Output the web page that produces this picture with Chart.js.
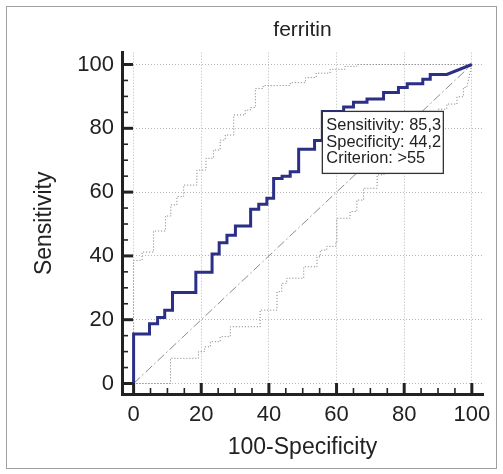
<!DOCTYPE html>
<html>
<head>
<meta charset="utf-8">
<script src="https://cdn.jsdelivr.net/npm/chart.js@4"></script>
<style>
  html, body { margin: 0; padding: 0; background: #fff; }
  #wrap { position: relative; width: 503px; height: 474px; }
  #frame { position: absolute; left: 6px; top: 6px; width: 489px; height: 461px; border: 1px solid #a0a0a0; pointer-events: none; }
</style>
</head>
<body>
<div id="wrap">
  <canvas id="roc"></canvas>
  <div id="frame"></div>
</div>
<script>
// 刻度
const tickValues = [0, 20, 40, 60, 80, 100];

// ROC 曲线 (100-Specificity, Sensitivity)
const rocX = [0, 0, 4.7, 4.7, 7.1, 7.1, 9.2, 9.2, 11.5, 11.5, 18.4, 18.4, 23.2, 23.2, 25.3, 25.3, 27.6, 27.6, 30.1, 30.1,
  34.6, 34.6, 37.0, 37.0, 39.4, 39.4, 41.4, 41.4, 43.9, 43.9, 46.3, 46.3, 48.8, 48.8, 53.5, 53.5, 55.8, 55.8,
  62.1, 62.1, 65.0, 65.0, 69.0, 69.0, 73.9, 73.9, 78.3, 78.3, 80.9, 80.9, 85.5, 85.5, 87.7, 87.7, 92.6, 100];
const rocY = [0, 15.5, 15.5, 18.7, 18.7, 20.7, 20.7, 23.0, 23.0, 28.5, 28.5, 34.9, 34.9, 40.6, 40.6, 44.1, 44.1, 46.5, 46.5, 49.4,
  49.4, 54.6, 54.6, 56.2, 56.2, 58.1, 58.1, 64.3, 64.3, 65.0, 65.0, 66.4, 66.4, 73.4, 73.4, 76.2, 76.2, 85.3,
  85.3, 86.7, 86.7, 88.2, 88.2, 89.2, 89.2, 91.2, 91.2, 92.8, 92.8, 94.0, 94.0, 95.4, 95.4, 96.9, 96.9, 100];

// 置信区间上限
const upperX = [0, 0, 2.5, 2.5, 5.9, 5.9, 9.4, 9.4, 11.0, 11.0, 12.8, 12.8, 14.8, 14.8, 18.7, 18.7, 21.4, 21.4, 23.6, 23.6,
  25.6, 25.6, 27.1, 27.1, 29.6, 29.6, 33.0, 33.0, 34.5, 34.5, 36.0, 36.0, 38.3, 38.3, 46.3, 46.3, 50.8, 50.8,
  54.0, 54.0, 58.1, 58.1, 62.5, 62.5, 66.0, 66.0, 100];
const upperY = [0, 38.6, 38.6, 41.2, 41.2, 47.8, 47.8, 52.5, 52.5, 56.0, 56.0, 58.6, 58.6, 62.2, 62.2, 66.9, 66.9, 70.6, 70.6, 73.2,
  73.2, 76.3, 76.3, 77.9, 77.9, 84.2, 84.2, 85.7, 85.7, 86.5, 86.5, 92.5, 92.5, 93.4, 93.4, 94.3, 94.3, 95.9,
  95.9, 97.3, 97.3, 98.5, 98.5, 99.4, 99.4, 100, 100];

// 置信区间下限
const lowerX = [0, 10.9, 10.9, 19.2, 19.2, 21.0, 21.0, 22.7, 22.7, 25.6, 25.6, 28.6, 28.6, 37.4, 37.4, 42.4, 42.4, 43.8, 43.8,
  45.3, 45.3, 50.3, 50.3, 54.2, 54.2, 55.2, 55.2, 57.1, 57.1, 59.8, 59.8, 60.1, 60.1, 64.0, 64.0, 66.0, 66.0,
  68.0, 68.0, 72.0, 72.0, 74.0, 74.0, 78.0, 78.0, 82.0, 82.0, 86.0, 86.0, 90.0, 90.0, 92.6, 92.6, 95.6, 95.6,
  97.5, 97.5, 98.5, 100];
const lowerY = [0, 0, 7.9, 7.9, 10.0, 10.0, 11.5, 11.5, 13.1, 13.1, 14.7, 14.7, 17.8, 17.8, 23.0, 23.0, 28.8, 28.8, 31.4,
  31.4, 33.0, 33.0, 36.6, 36.6, 39.7, 39.7, 41.8, 41.8, 43.0, 43.0, 44.5, 44.5, 51.8, 51.8, 53.9, 53.9, 57.5,
  57.5, 61.2, 61.2, 65.4, 65.4, 69.5, 69.5, 74.0, 74.0, 78.0, 78.0, 82.0, 82.0, 86.0, 86.0, 87.6, 87.6, 89.9,
  89.9, 92.8, 92.8, 100];

// 参考对角线
const diagX = [0, 100];
const diagY = [0, 100];

// 标注框
const criterionPoint = { x: 100 - 44.2, y: 85.3 };
const criterionLines = ['Sensitivity: 85,3', 'Specificity: 44,2', 'Criterion: >55'];

const FONT = "'Liberation Sans', Arial, sans-serif";

function toPoints(xs, ys) {
    return xs.map((x, i) => ({ x: x, y: ys[i] }));
}

// 坐标轴内向刻度 + 标注框
const axisTicksPlugin = {
    id: 'axisTicks',
    afterDatasetsDraw(chart) {
        const ctx = chart.ctx;
        const xs = chart.scales.x, ys = chart.scales.y;
        const px = xs.getPixelForValue(criterionPoint.x);
        const py = ys.getPixelForValue(criterionPoint.y);
        const w = 121, h = 62;
        ctx.save();
        ctx.fillStyle = '#fff';
        ctx.fillRect(px, py, w, h);
        ctx.strokeStyle = '#333';
        ctx.lineWidth = 1.3;
        ctx.strokeRect(px, py, w, h);
        ctx.fillStyle = '#222';
        ctx.font = '16.4px ' + FONT;
        ctx.textBaseline = 'middle';
        criterionLines.forEach((line, i) => {
            ctx.fillText(line, px + 4, py + 14 + i * 16.7);
        });
        ctx.restore();
    },
    afterDraw(chart) {
        const ctx = chart.ctx;
        const area = chart.chartArea;
        const xs = chart.scales.x, ys = chart.scales.y;
        ctx.save();
        ctx.strokeStyle = '#222';
        for (let v = 0; v <= 100; v += 5) {
            const major = v % 20 === 0;
            const len = major ? 11 : 6;
            ctx.lineWidth = major ? 3 : 1.6;
            const x = xs.getPixelForValue(v);
            ctx.beginPath();
            ctx.moveTo(x, area.bottom);
            ctx.lineTo(x, area.bottom - len);
            ctx.stroke();
            const y = ys.getPixelForValue(v);
            ctx.beginPath();
            ctx.moveTo(area.left, y);
            ctx.lineTo(area.left + len, y);
            ctx.stroke();
        }
        ctx.restore();
    }
};

function fixedTicks(scale) {
    scale.ticks = tickValues.map(v => ({ value: v }));
}

new Chart(document.getElementById('roc'), {
    type: 'scatter',
    data: {
        datasets: [
            {
                data: toPoints(rocX, rocY),
                showLine: true,
                borderColor: '#2b2f86',
                borderWidth: 3,
                pointRadius: 0,
                order: 0
            },
            {
                data: toPoints(upperX, upperY),
                showLine: true,
                borderColor: '#7a7a7a',
                borderWidth: 1,
                borderDash: [1, 2],
                pointRadius: 0,
                order: 1
            },
            {
                data: toPoints(lowerX, lowerY),
                showLine: true,
                borderColor: '#7a7a7a',
                borderWidth: 1,
                borderDash: [1, 2],
                pointRadius: 0,
                order: 2
            },
            {
                data: toPoints(diagX, diagY),
                showLine: true,
                borderColor: '#8a8a8a',
                borderWidth: 1,
                borderDash: [9, 3, 1.5, 3],
                pointRadius: 0,
                order: 3
            }
        ]
    },
    options: {
        responsive: true,
        maintainAspectRatio: false,
        animation: false,
        layout: { padding: { left: 0, right: 20, top: 0, bottom: 0 } },
        plugins: {
            legend: { display: false },
            tooltip: { enabled: false },
            title: {
                display: true,
                fullSize: false,
                text: 'ferritin',
                color: '#222',
                font: { family: FONT, size: 21, weight: 'normal' },
                padding: { top: 18, bottom: 9.5 }
            }
        },
        scales: {
            x: {
                type: 'linear',
                min: -3.43,
                max: 103.3,
                afterBuildTicks: fixedTicks,
                afterFit: s => { s.height = 80; },
                grid: { color: '#b8b8b8', lineWidth: 1, drawTicks: false },
                border: { display: true, color: '#222', width: 3, dash: [1, 2] },
                ticks: { color: '#222', padding: 8, maxRotation: 0, font: { family: FONT, size: 22 } },
                title: {
                    display: true,
                    text: '100-Specificity',
                    color: '#222',
                    font: { family: FONT, size: 23 },
                    padding: { top: 0, bottom: 13 }
                }
            },
            y: {
                type: 'linear',
                min: -3.29,
                max: 103.7,
                afterBuildTicks: fixedTicks,
                afterFit: s => { s.width = 122; },
                grid: { color: '#b8b8b8', lineWidth: 1, drawTicks: false },
                border: { display: true, color: '#222', width: 3, dash: [1, 2] },
                ticks: { color: '#222', padding: 8, font: { family: FONT, size: 22 } },
                title: {
                    display: true,
                    text: 'Sensitivity',
                    color: '#222',
                    font: { family: FONT, size: 23 },
                    padding: { top: 31, bottom: 0 }
                }
            }
        }
    },
    plugins: [axisTicksPlugin]
});
</script>
</body>
</html>
